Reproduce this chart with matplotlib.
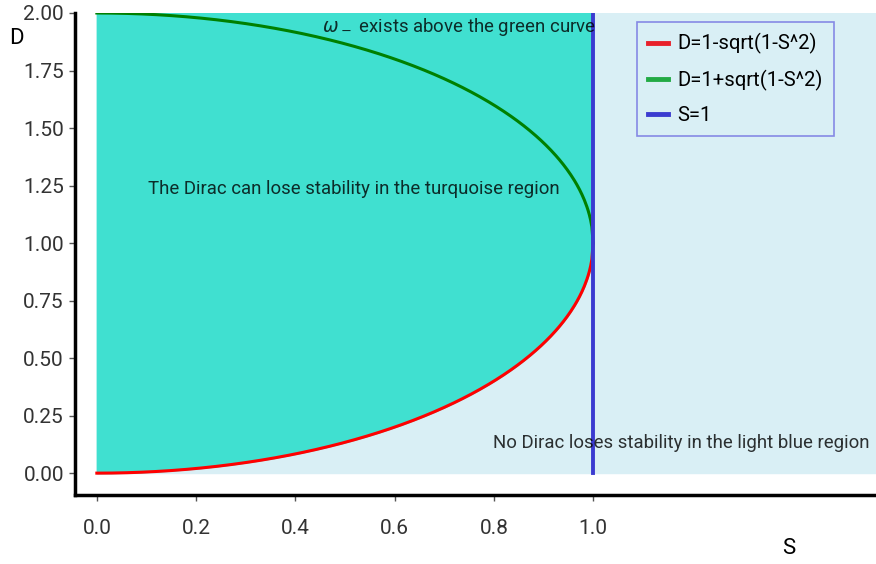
import numpy as np
import matplotlib
matplotlib.use("Agg")
from matplotlib import pyplot as plt
from matplotlib.lines import Line2D

plt.rcParams['font.family'] = ['Roboto', 'DejaVu Sans']

# chart content
curveLabels = ['D=1-sqrt(1-S^2)', 'D=1+sqrt(1-S^2)', 'S=1']
xTicks = [0.0, 0.2, 0.4, 0.6, 0.8, 1.0]
yTicks = [0.00, 0.25, 0.50, 0.75, 1.00, 1.25, 1.50, 1.75, 2.00]
sBoundary = 1.0
dTop = 2.0
sRight = 1.57

S = np.linspace(0, sBoundary, 400)
lower = 1 - np.sqrt(1 - S ** 2)
upper = 1 + np.sqrt(1 - S ** 2)

fig = plt.figure(figsize=(8.76, 5.64), dpi=100)
ax = fig.add_axes([75 / 876, 69 / 564, 801 / 876, 482 / 564])

# light blue background region
ax.fill_between([0, sRight], 0, dTop, color='#d9eff5', zorder=0)
# turquoise region: everything above the red curve for S <= 1
ax.fill_between(S, lower, dTop, color='#40e0d0', zorder=1)

ax.plot(S, lower, color='red', lw=2.2, zorder=3)
ax.plot(S, upper, color='green', lw=2.2, zorder=3)
ax.plot([sBoundary, sBoundary], [0, dTop], color='#3b3bd0', lw=2.8, zorder=4)

ax.text(0.454, 1.94, r'$\omega_-$ exists above the green curve', fontsize=13.4,
        color='black', alpha=0.8, va='center', ha='left', zorder=5)
ax.text(0.103, 1.235, 'The Dirac can lose stability in the turquoise region', fontsize=13.4,
        color='black', alpha=0.8, va='center', ha='left', zorder=5)
ax.text(0.798, 0.13, 'No Dirac loses stability in the light blue region', fontsize=13.4,
        color='black', alpha=0.8, va='center', ha='left', zorder=5)

ax.set_xlim(-0.044, sRight)
ax.set_ylim(-0.095, dTop)
ax.set_xticks(xTicks)
ax.set_xticklabels([f'{v:.1f}' for v in xTicks])
ax.set_yticks(yTicks)
ax.set_yticklabels([f'{v:.2f}' for v in yTicks])
ax.tick_params(direction='out', length=4, width=1, color='#555555',
               labelcolor='#333333', labelsize=15)
ax.tick_params(axis='y', pad=4)
ax.tick_params(axis='x', pad=13)

ax.spines['top'].set_visible(False)
ax.spines['right'].set_visible(False)
ax.spines['left'].set_linewidth(2.5)
ax.spines['bottom'].set_linewidth(2.5)

handles = [Line2D([], [], color='#e8202a', lw=3.5),
           Line2D([], [], color='#22aa44', lw=3.5),
           Line2D([], [], color='#3c3cd0', lw=3.5)]
leg = ax.legend(handles, curveLabels, loc='upper left', bbox_to_anchor=(0.7016, 0.981),
                borderaxespad=0, fontsize=14.6, frameon=True, fancybox=False,
                handlelength=1.0, handletextpad=0.45, borderpad=0.55, labelspacing=0.75)
leg.get_frame().set_edgecolor('#7070e0')
leg.get_frame().set_facecolor('none')
leg.get_frame().set_linewidth(1.2)

fig.text(16 / 876, 1 - 39 / 564, 'D', fontsize=16, ha='center', va='center')
fig.text(789 / 876, 1 - 548 / 564, 'S', fontsize=16, ha='center', va='center')

fig.savefig('out.png', dpi=100)
